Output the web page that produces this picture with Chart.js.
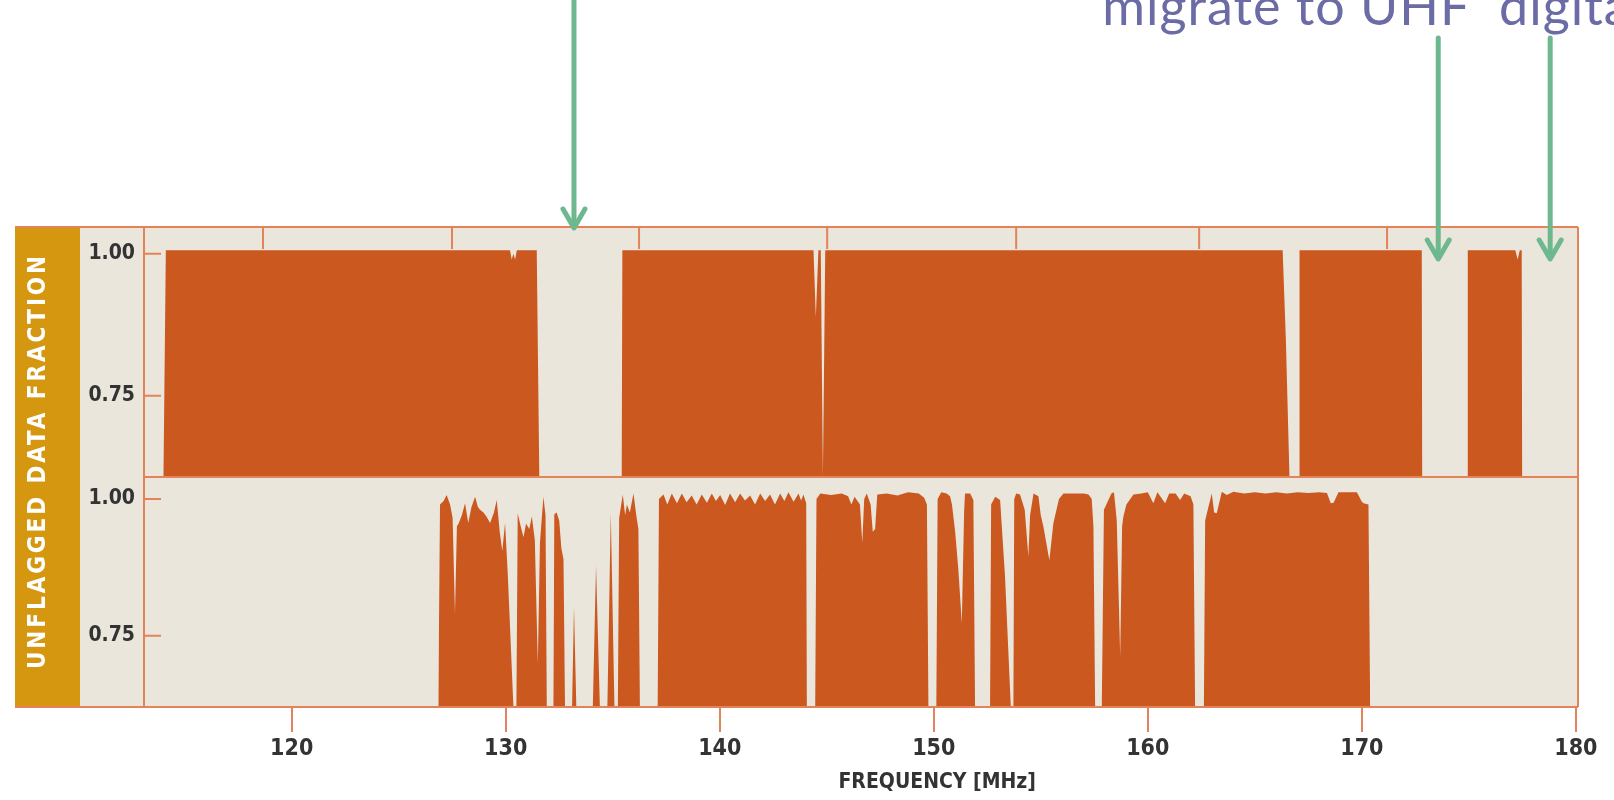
<!DOCTYPE html>
<html lang="en">
<head>
  <meta charset="UTF-8" />
  <title>Unflagged data fraction</title>
  <script src="https://cdn.jsdelivr.net/npm/chart.js"></script>
  <style>
    html, body { margin: 0; padding: 0; background: #fff; overflow: hidden; }
    canvas { display: block; }
  </style>
</head>
<body>
  <canvas id="flagChart" width="1614" height="800"></canvas>
  <script>
    const freqRange = [113.1, 180.1];
    const freqTicks = [120, 130, 140, 150, 160, 170, 180];
    const upperTicks = [118.66, 127.49, 136.23, 145.02, 153.85, 162.40, 171.18];
    const fracTicks = [0.75, 1.00];
    const topRange = [0.607, 1.047];
    const botRange = [0.62, 1.04];
    const arrowFreqs = [133.19, 173.57, 178.8];

    // [frequency MHz, unflagged fraction] - upper panel
    const topPanel = [
      [113.10, 0.607], [114.01, 0.607], [114.12, 1.006], [130.20, 1.006], [130.28, 0.990],
      [130.36, 1.000], [130.44, 0.990], [130.52, 1.006], [131.45, 1.006], [131.57, 0.607],
      [135.42, 0.607], [135.45, 1.006], [144.38, 1.006], [144.49, 0.888], [144.61, 1.006],
      [144.72, 1.006], [144.82, 0.607], [144.93, 1.006], [166.30, 1.006], [166.45, 0.850],
      [166.62, 0.607], [167.07, 0.607], [167.09, 1.006], [172.80, 1.006], [172.82, 0.607],
      [174.93, 0.607], [174.95, 1.006], [177.17, 1.006], [177.28, 0.990], [177.38, 1.006],
      [177.47, 1.006], [177.49, 0.607], [180.10, 0.607]
    ];

    // lower panel
    const botPanel = [
      [126.85, 0.62], [126.93, 0.990], [127.10, 0.996], [127.24, 1.007], [127.40, 0.990],
      [127.52, 0.965], [127.63, 0.790], [127.72, 0.950], [127.80, 0.955], [127.95, 0.970],
      [128.10, 0.992], [128.25, 0.956], [128.40, 0.985], [128.57, 1.004], [128.70, 0.985],
      [128.80, 0.980], [128.96, 0.975], [129.10, 0.968], [129.27, 0.956], [129.45, 0.975],
      [129.58, 0.998], [129.72, 0.940], [129.84, 0.905], [129.97, 0.956], [130.10, 0.860],
      [130.36, 0.62], [130.50, 0.62], [130.56, 0.974], [130.70, 0.950], [130.83, 0.930],
      [130.95, 0.955], [131.10, 0.945], [131.22, 0.968], [131.36, 0.925], [131.50, 0.700],
      [131.60, 0.920], [131.76, 1.004], [131.86, 0.970], [131.92, 0.62], [132.23, 0.62],
      [132.27, 0.972], [132.38, 0.975], [132.50, 0.960], [132.60, 0.910], [132.70, 0.890],
      [132.77, 0.62], [133.10, 0.62], [133.19, 0.803], [133.30, 0.62], [134.07, 0.62],
      [134.22, 0.879], [134.40, 0.62], [134.75, 0.62], [134.91, 0.974], [135.08, 0.62],
      [135.24, 0.62], [135.30, 0.965], [135.47, 1.008], [135.58, 0.970], [135.66, 0.990],
      [135.80, 0.975], [135.97, 1.010], [136.10, 0.970], [136.20, 0.945], [136.27, 0.62],
      [137.10, 0.62], [137.16, 1.000], [137.37, 1.008], [137.55, 0.990], [137.76, 1.010],
      [138.00, 0.992], [138.23, 1.010], [138.45, 0.994], [138.69, 1.006], [138.92, 0.990],
      [139.16, 1.008], [139.40, 0.993], [139.63, 1.010], [139.82, 0.996], [140.02, 1.007],
      [140.25, 0.989], [140.48, 1.010], [140.72, 0.994], [140.95, 1.010], [141.18, 0.997],
      [141.42, 1.006], [141.65, 0.990], [141.89, 1.010], [142.12, 0.996], [142.35, 1.008],
      [142.58, 0.990], [142.82, 1.010], [143.02, 0.996], [143.21, 1.012], [143.45, 0.995],
      [143.68, 1.010], [143.80, 0.997], [143.91, 1.008], [144.04, 0.992], [144.07, 0.62],
      [144.46, 0.62], [144.52, 1.000], [144.70, 1.010], [145.20, 1.007], [145.70, 1.010],
      [146.00, 1.005], [146.15, 0.990], [146.30, 1.004], [146.55, 0.990], [146.66, 0.920],
      [146.75, 1.000], [146.87, 1.010], [147.05, 0.990], [147.15, 0.940], [147.26, 0.945],
      [147.36, 1.008], [147.80, 1.010], [148.30, 1.006], [148.80, 1.012], [149.30, 1.010],
      [149.55, 1.002], [149.68, 0.990], [149.75, 0.62], [150.12, 0.62], [150.18, 1.000],
      [150.35, 1.012], [150.60, 1.010], [150.76, 1.005], [150.85, 0.990], [151.00, 0.940],
      [151.15, 0.870], [151.31, 0.773], [151.42, 0.980], [151.46, 1.010], [151.70, 1.010],
      [151.85, 0.998], [151.93, 0.62], [152.63, 0.62], [152.68, 0.990], [152.87, 1.004],
      [153.10, 0.998], [153.33, 0.858], [153.60, 0.62], [153.72, 0.62], [153.76, 1.000],
      [153.85, 1.010], [154.03, 1.008], [154.25, 0.980], [154.42, 0.895], [154.50, 0.970],
      [154.66, 1.010], [154.89, 1.005], [155.00, 0.970], [155.12, 0.950], [155.40, 0.888],
      [155.59, 0.956], [155.85, 1.000], [156.06, 1.010], [156.60, 1.010], [157.00, 1.010],
      [157.23, 1.008], [157.38, 1.000], [157.46, 0.950], [157.54, 0.62], [157.85, 0.62],
      [157.95, 0.980], [158.30, 1.010], [158.42, 1.012], [158.55, 0.960], [158.71, 0.712],
      [158.80, 0.950], [158.86, 0.968], [159.00, 0.990], [159.33, 1.008], [159.70, 1.010],
      [160.00, 1.012], [160.26, 0.992], [160.45, 1.012], [160.81, 0.992], [161.00, 1.010],
      [161.30, 1.010], [161.51, 0.998], [161.70, 1.010], [162.00, 1.005], [162.13, 0.990],
      [162.21, 0.62], [162.62, 0.62], [162.68, 0.960], [162.76, 0.974], [162.99, 1.010],
      [163.10, 0.975], [163.22, 0.974], [163.46, 1.013], [163.69, 1.007], [164.00, 1.013],
      [164.50, 1.010], [165.00, 1.012], [165.50, 1.010], [166.00, 1.012], [166.50, 1.010],
      [167.00, 1.012], [167.50, 1.011], [168.00, 1.012], [168.37, 1.011], [168.55, 0.992],
      [168.68, 0.993], [168.91, 1.012], [169.40, 1.012], [169.77, 1.012], [170.00, 0.995],
      [170.08, 0.992], [170.31, 0.990], [170.39, 0.62]
    ];

    const COL = {
      fill: '#CB581F', beige: '#EAE6DC', gold: '#D4970F', rule: '#E4825A',
      ink: '#333333', green: '#6DB88E', purple: '#6B6BA6'
    };
    const condensed = '"DejaVu Sans Condensed", "DejaVu Sans", sans-serif';

    function drawArrow(ctx, x, y0, y1) {
      ctx.beginPath();
      ctx.moveTo(x, y0);
      ctx.lineTo(x, y1 - 3);
      ctx.stroke();
      ctx.beginPath();
      ctx.moveTo(x - 11, y1 - 19);
      ctx.lineTo(x, y1);
      ctx.lineTo(x + 11, y1 - 19);
      ctx.stroke();
    }

    const framePlugin = {
      id: 'frame',
      beforeDraw(chart) {
        const {ctx, chartArea: a} = chart;
        ctx.save();
        ctx.fillStyle = '#fff';
        ctx.fillRect(0, 0, chart.width, chart.height);
        const stripL = a.left - 129, stripR = a.left - 64;
        ctx.fillStyle = COL.beige;
        ctx.fillRect(stripR, a.top, a.right - stripR, a.bottom - a.top);
        ctx.fillStyle = COL.gold;
        ctx.fillRect(stripL, a.top, stripR - stripL, a.bottom - a.top);
        ctx.restore();
      },
      afterDatasetsDraw(chart) {
        const {ctx, chartArea: a, scales} = chart;
        const x = scales.x, yT = scales.yTop, yB = scales.yBot;
        const stripL = a.left - 129;
        ctx.save();
        ctx.strokeStyle = COL.rule;
        ctx.lineWidth = 2;
        ctx.beginPath();
        ctx.moveTo(stripL, a.top); ctx.lineTo(a.right, a.top);
        ctx.moveTo(stripL, a.bottom); ctx.lineTo(a.right, a.bottom);
        ctx.moveTo(a.left, yT.bottom); ctx.lineTo(a.right, yT.bottom);
        ctx.moveTo(a.left, a.top); ctx.lineTo(a.left, a.bottom);
        ctx.moveTo(a.right, a.top); ctx.lineTo(a.right, a.bottom);
        // inward y ticks
        [yT, yB].forEach(s => fracTicks.forEach(v => {
          const py = s.getPixelForValue(v);
          ctx.moveTo(a.left, py); ctx.lineTo(a.left + 17, py);
        }));
        // short ticks hanging from the top edge
        upperTicks.forEach(v => {
          const px = x.getPixelForValue(v);
          ctx.moveTo(px, a.top); ctx.lineTo(px, a.top + 22);
        });
        ctx.stroke();

        // vertical label in the gold strip
        ctx.save();
        ctx.translate(a.left - 105, (a.top + a.bottom) / 2 - 6);
        ctx.rotate(-Math.PI / 2);
        ctx.fillStyle = '#fff';
        ctx.font = 'bold 24px ' + condensed;
        ctx.letterSpacing = '2.9px';
        ctx.textAlign = 'center';
        ctx.textBaseline = 'middle';
        ctx.fillText('UNFLAGGED DATA FRACTION', 0, 0);
        ctx.restore();

        // axis title
        ctx.fillStyle = COL.ink;
        ctx.font = 'bold 21px ' + condensed;
        ctx.textAlign = 'center';
        ctx.textBaseline = 'middle';
        ctx.fillText('FREQUENCY [MHz]', x.getPixelForValue(150.16), a.bottom + 76);

        // annotation arrows and caption
        ctx.strokeStyle = COL.green;
        ctx.lineWidth = 5;
        ctx.lineCap = 'round';
        ctx.lineJoin = 'round';
        drawArrow(ctx, x.getPixelForValue(arrowFreqs[0]), 0, a.top + 1);
        drawArrow(ctx, x.getPixelForValue(arrowFreqs[1]), 38, a.top + 32);
        drawArrow(ctx, x.getPixelForValue(arrowFreqs[2]), 38, a.top + 32);

        ctx.fillStyle = COL.purple;
        ctx.font = '52px Lato, "Open Sans", sans-serif';
        ctx.letterSpacing = '1px';
        ctx.textAlign = 'left';
        ctx.textBaseline = 'alphabetic';
        ctx.fillText('migrate to UHF  digital', x.getPixelForValue(157.87), 25);
        ctx.restore();
      }
    };

    const areaStyle = {
      fill: 'start',
      backgroundColor: COL.fill,
      borderColor: 'rgba(0,0,0,0)',
      borderWidth: 0,
      pointRadius: 0,
      tension: 0
    };

    const yAxis = (range, weight) => ({
      type: 'linear',
      position: 'left',
      stack: 'panels',
      stackWeight: weight,
      min: range[0],
      max: range[1],
      afterBuildTicks: s => { s.ticks = fracTicks.map(v => ({value: v})); },
      afterFit: s => { s.width = 144; },
      grid: {display: false, drawTicks: false},
      border: {display: false},
      ticks: {
        padding: 9,
        color: COL.ink,
        font: {family: condensed, weight: 'bold', size: 21},
        callback: v => Number(v).toFixed(2)
      }
    });

    new Chart(document.getElementById('flagChart'), {
      type: 'line',
      data: {
        datasets: [
          Object.assign({label: 'upper', yAxisID: 'yTop',
            data: topPanel.map(p => ({x: p[0], y: p[1]}))}, areaStyle),
          Object.assign({label: 'lower', yAxisID: 'yBot',
            data: botPanel.map(p => ({x: p[0], y: p[1]}))}, areaStyle)
        ]
      },
      options: {
        responsive: false,
        animation: false,
        events: [],
        layout: {padding: {top: 227, right: 36, left: 0, bottom: 0}},
        plugins: {legend: {display: false}, tooltip: {enabled: false}},
        scales: {
          x: {
            type: 'linear',
            min: freqRange[0],
            max: freqRange[1],
            afterBuildTicks: s => { s.ticks = freqTicks.map(v => ({value: v})); },
            afterFit: s => { s.height = 93; },
            grid: {display: true, drawOnChartArea: false, color: COL.rule, lineWidth: 2, tickLength: 25},
            border: {display: false},
            ticks: {
              padding: 3,
              maxRotation: 0,
              autoSkip: false,
              color: COL.ink,
              font: {family: condensed, weight: 'bold', size: 23},
              callback: v => String(v)
            }
          },
          yBot: yAxis(botRange, 230),
          yTop: yAxis(topRange, 250)
        }
      },
      plugins: [framePlugin]
    });
  </script>
</body>
</html>
